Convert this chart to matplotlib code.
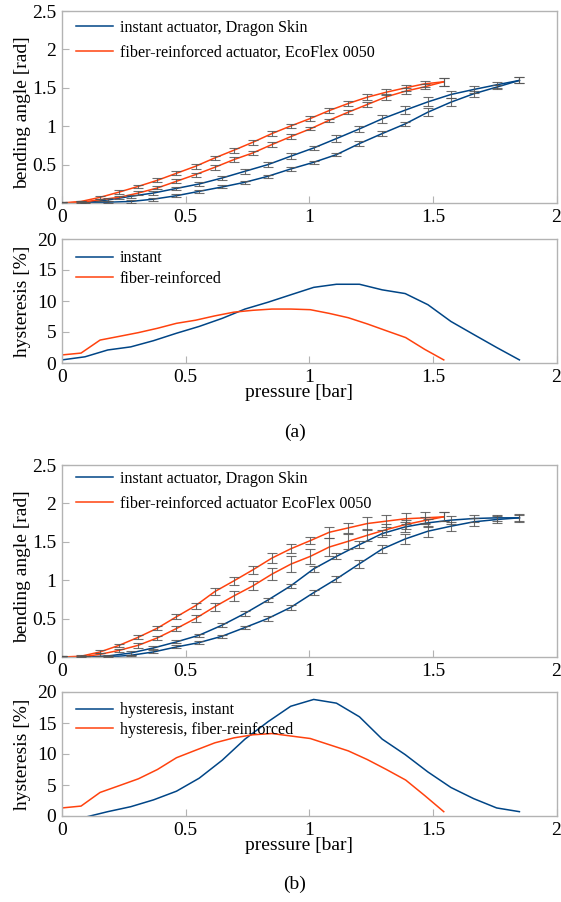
import matplotlib
matplotlib.use("Agg")
import matplotlib.pyplot as plt

plt.rcParams['font.family'] = ['Liberation Serif', 'DejaVu Serif']

blue = '#004586'
orange = '#ff420e'
frame = '#b3b3b3'

# pressure grids [bar]
p_fr = [0.0, 0.077, 0.154, 0.232, 0.309, 0.386, 0.463, 0.540, 0.618, 0.695, 0.772,
        0.849, 0.926, 1.004, 1.081, 1.158, 1.235, 1.312, 1.390, 1.467, 1.544]
p_inst = [0.0, 0.093, 0.185, 0.278, 0.370, 0.463, 0.555, 0.648, 0.740, 0.833, 0.925,
          1.018, 1.110, 1.203, 1.295, 1.388, 1.480, 1.573, 1.665, 1.758, 1.850]

# (a) bending angle [rad]
fr_up_a = [0.0, 0.02, 0.074, 0.143, 0.217, 0.296, 0.387, 0.478, 0.587, 0.687, 0.791,
           0.904, 1.004, 1.10, 1.204, 1.296, 1.378, 1.443, 1.50, 1.552, 1.578]
fr_lo_a = [0.0, 0.01, 0.043, 0.074, 0.13, 0.196, 0.283, 0.37, 0.465, 0.565, 0.652,
           0.761, 0.865, 0.965, 1.078, 1.183, 1.283, 1.383, 1.457, 1.513, 1.578]
inst_up_a = [0.0, 0.005, 0.04, 0.087, 0.13, 0.19, 0.248, 0.326, 0.413, 0.50, 0.609,
             0.717, 0.839, 0.965, 1.096, 1.209, 1.317, 1.413, 1.478, 1.539, 1.596]
inst_lo_a = [0.0, 0.0, 0.01, 0.02, 0.05, 0.095, 0.152, 0.209, 0.27, 0.348, 0.443,
             0.53, 0.63, 0.774, 0.904, 1.03, 1.183, 1.313, 1.422, 1.509, 1.596]
err_fr_up_a = [0.01, 0.01, 0.02, 0.02, 0.02, 0.025, 0.025, 0.03, 0.03, 0.03, 0.03,
               0.03, 0.03, 0.03, 0.03, 0.035, 0.04, 0.04, 0.04, 0.04, 0.05]
err_fr_lo_a = [0.01, 0.01, 0.015, 0.02, 0.02, 0.02, 0.025, 0.025, 0.03, 0.03, 0.03,
               0.03, 0.03, 0.02, 0.02, 0.03, 0.03, 0.04, 0.04, 0.03, 0.05]
err_inst_up_a = [0.01, 0.01, 0.02, 0.02, 0.02, 0.02, 0.025, 0.03, 0.03, 0.035, 0.04,
                 0.03, 0.04, 0.04, 0.05, 0.055, 0.06, 0.05, 0.04, 0.04, 0.04]
err_inst_lo_a = [0.01, 0.01, 0.01, 0.015, 0.02, 0.02, 0.02, 0.02, 0.02, 0.02, 0.02,
                 0.02, 0.02, 0.03, 0.03, 0.03, 0.05, 0.05, 0.04, 0.03, 0.04]

# (a) hysteresis [%]
hyst_inst_a = [0.5, 1.0, 2.1, 2.6, 3.6, 4.8, 5.9, 7.2, 8.7, 9.8, 11.0,
               12.2, 12.7, 12.7, 11.8, 11.2, 9.4, 6.7, 4.6, 2.5, 0.5]
hyst_fr_a = [1.3, 1.6, 3.7, 4.3, 4.9, 5.6, 6.4, 6.9, 7.6, 8.2, 8.5,
             8.7, 8.7, 8.6, 8.0, 7.3, 6.3, 5.2, 4.1, 2.2, 0.5]

# (b) bending angle [rad]
fr_up_b = [0.0, 0.01, 0.066, 0.153, 0.258, 0.376, 0.524, 0.668, 0.852, 0.991, 1.135,
           1.288, 1.41, 1.515, 1.624, 1.681, 1.738, 1.769, 1.80, 1.812, 1.825]
fr_lo_b = [0.0, 0.0, 0.035, 0.087, 0.153, 0.249, 0.371, 0.502, 0.655, 0.795, 0.926,
           1.079, 1.21, 1.31, 1.432, 1.507, 1.585, 1.659, 1.725, 1.777, 1.825]
inst_up_b = [0.0, 0.0, 0.013, 0.052, 0.118, 0.197, 0.284, 0.415, 0.568, 0.742, 0.926,
             1.148, 1.31, 1.463, 1.607, 1.694, 1.747, 1.782, 1.803, 1.812, 1.812]
inst_lo_b = [0.0, 0.0, 0.0, 0.022, 0.066, 0.131, 0.188, 0.271, 0.384, 0.502, 0.646,
             0.838, 1.017, 1.214, 1.406, 1.537, 1.638, 1.703, 1.76, 1.79, 1.812]
err_fr_up_b = [0.01, 0.01, 0.02, 0.02, 0.03, 0.03, 0.03, 0.04, 0.04, 0.05, 0.05,
               0.06, 0.06, 0.05, 0.07, 0.07, 0.08, 0.08, 0.07, 0.07, 0.06]
err_fr_lo_b = [0.01, 0.01, 0.02, 0.02, 0.03, 0.03, 0.03, 0.04, 0.05, 0.06, 0.06,
               0.08, 0.1, 0.1, 0.12, 0.1, 0.08, 0.07, 0.06, 0.05, 0.06]
err_inst_up_b = [0.01, 0.01, 0.01, 0.02, 0.02, 0.02, 0.02, 0.03, 0.03, 0.03, 0.03,
                 0.04, 0.04, 0.05, 0.05, 0.06, 0.05, 0.05, 0.04, 0.04, 0.04]
err_inst_lo_b = [0.01, 0.01, 0.01, 0.01, 0.02, 0.02, 0.02, 0.02, 0.02, 0.03, 0.03,
                 0.03, 0.04, 0.05, 0.05, 0.06, 0.07, 0.06, 0.05, 0.05, 0.05]

# (b) hysteresis [%]
p_inst_b = p_inst[1:]
hyst_inst_b = [-0.2, 0.7, 1.5, 2.6, 4.0, 6.1, 9.0, 12.4, 15.2, 17.7,
               18.8, 18.2, 16.0, 12.4, 9.9, 7.1, 4.6, 2.8, 1.3, 0.7]
hyst_fr_b = [1.3, 1.6, 3.8, 4.9, 6.0, 7.5, 9.4, 10.6, 11.8, 12.6, 13.1,
             13.3, 12.9, 12.5, 11.5, 10.5, 9.1, 7.5, 5.8, 3.3, 0.7]

W, H = 561, 902
fig = plt.figure(figsize=(W / 100, H / 100), dpi=100)


def make_ax(top, bottom):
    ax = fig.add_axes([62 / W, 1 - bottom / H, 494.5 / W, (bottom - top) / H])
    for s in ax.spines.values():
        s.set_color(frame)
        s.set_linewidth(1.0)
    ax.tick_params(direction='in', length=5, color=frame, labelsize=14, pad=4)
    ax.set_xlim(0, 2)
    ax.set_xticks([0, 0.5, 1, 1.5, 2])
    ax.set_xticklabels(['0', '0.5', '1', '1.5', '2'])
    return ax


def add_legend(ax, first_row_px, spacing):
    # first_row_px: distance in pixels from the axes top to the centre of row 1
    h_px = ax.get_position().height * H
    ax.legend(loc='upper left', bbox_to_anchor=(14 / 494.5, 1 - (first_row_px - 5) / h_px),
              frameon=False, fontsize=11.6, handlelength=2.3, handletextpad=0.4,
              labelspacing=spacing, borderaxespad=0.0, borderpad=0.0)


def bending(ax, up_fr, lo_fr, up_in, lo_in, e_up_fr, e_lo_fr, e_up_in, e_lo_in, lab_in, lab_fr):
    ax.plot(p_inst, up_in, color=blue, lw=1.1, label=lab_in)
    ax.plot(p_inst, lo_in, color=blue, lw=1.1)
    ax.plot(p_fr, up_fr, color=orange, lw=1.1, label=lab_fr)
    ax.plot(p_fr, lo_fr, color=orange, lw=1.1)
    for x, y, e in [(p_inst, up_in, e_up_in), (p_inst, lo_in, e_lo_in),
                    (p_fr, up_fr, e_up_fr), (p_fr, lo_fr, e_lo_fr)]:
        ax.errorbar(x, y, yerr=e, fmt='none', ecolor='#555555', elinewidth=0.8,
                    capsize=3.5, capthick=0.8, alpha=0.85, zorder=3)
    ax.set_ylim(0, 2.5)
    ax.set_yticks([0, 0.5, 1, 1.5, 2, 2.5])
    ax.set_yticklabels(['0', '0.5', '1', '1.5', '2', '2.5'])
    ax.set_ylabel('bending angle [rad]', fontsize=14)
    ax.yaxis.set_label_coords(-0.063, 0.47)


def hysteresis(ax, x_in, h_in, h_fr, lab_in, lab_fr):
    ax.plot(x_in, h_in, color=blue, lw=1.1, label=lab_in)
    ax.plot(p_fr, h_fr, color=orange, lw=1.1, label=lab_fr)
    ax.set_ylim(0, 20)
    ax.set_yticks([0, 5, 10, 15, 20])
    ax.set_ylabel('hysteresis [%]', fontsize=14)
    ax.yaxis.set_label_coords(-0.063, 0.5)
    ax.set_xlabel('pressure [bar]', fontsize=14)
    ax.xaxis.set_label_coords(0.48, -0.17)


ax1 = make_ax(11, 203)
bending(ax1, fr_up_a, fr_lo_a, inst_up_a, inst_lo_a,
        err_fr_up_a, err_fr_lo_a, err_inst_up_a, err_inst_lo_a,
        'instant actuator, Dragon Skin', 'fiber-reinforced actuator, EcoFlex 0050')
add_legend(ax1, 14, 0.51)

ax2 = make_ax(239, 363)
hysteresis(ax2, p_inst, hyst_inst_a, hyst_fr_a, 'instant', 'fiber-reinforced')
add_legend(ax2, 16.5, 0.25)

ax3 = make_ax(465, 657)
bending(ax3, fr_up_b, fr_lo_b, inst_up_b, inst_lo_b,
        err_fr_up_b, err_fr_lo_b, err_inst_up_b, err_inst_lo_b,
        'instant actuator, Dragon Skin', 'fiber-reinforced actuator EcoFlex 0050')
add_legend(ax3, 11, 0.53)

ax4 = make_ax(692, 816)
hysteresis(ax4, p_inst_b, hyst_inst_b, hyst_fr_b, 'hysteresis, instant', 'hysteresis, fiber-reinforced')
add_legend(ax4, 15.5, 0.2)

fig.text(295 / W, 1 - 432 / H, '(a)', ha='center', va='center', fontsize=14)
fig.text(295 / W, 1 - 884 / H, '(b)', ha='center', va='center', fontsize=14)

fig.savefig('out.png', dpi=100)
